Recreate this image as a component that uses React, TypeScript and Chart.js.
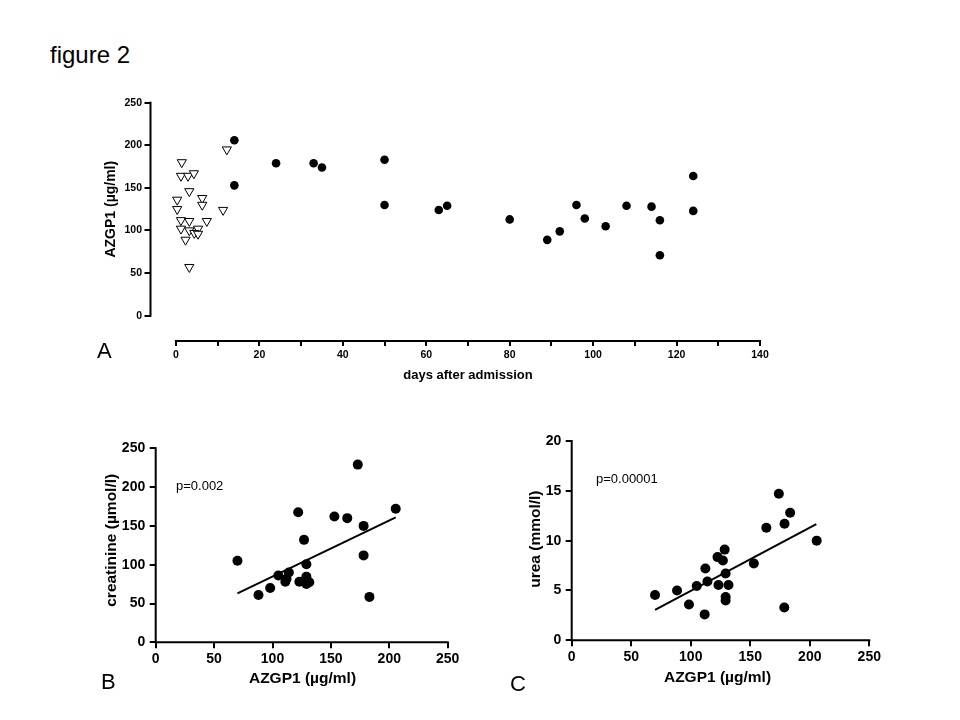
import React, { useEffect, useRef } from "react";
import { Chart, registerables } from "chart.js";

Chart.register(...registerables);

const FONT = "'Liberation Sans', Arial, Helvetica, sans-serif";

// ---------- Panel A: AZGP1 vs days after admission ----------
const admissionDays = [1.4, 1.2, 2.9, 4.3, 3.2, 0.3, 6.3, 0.3, 6.3, 11.3, 1.2, 3.2, 7.4, 1.2, 3.2, 5.3, 4.4, 5.3, 2.3, 3.2, 12.2];
const admissionAZGP1 = [180, 164, 164, 167, 146, 136, 138, 125, 130, 124, 112, 111, 111, 102, 100, 102, 97, 96, 89, 57, 195];
const followDays = [14, 14, 24, 33, 35, 50, 50, 63, 65, 80, 89, 92, 96, 98, 103, 108, 114, 116, 116, 124, 124];
const followAZGP1 = [206, 153, 179, 179, 174, 183, 130, 124, 129, 113, 89, 99, 130, 114, 105, 129, 128, 112, 71, 164, 123];
const dayTicks = [0, 10, 20, 30, 40, 50, 60, 70, 80, 90, 100, 110, 120, 130, 140];
const dayTickLabels = [0, 20, 40, 60, 80, 100, 120, 140];
const azgpTicksA = [0, 50, 100, 150, 200, 250];

// ---------- Panel B: creatinine vs AZGP1 ----------
const creatAZGP1 = [70, 88, 98, 105, 111, 112, 114, 122, 123, 127, 129, 129, 129, 131.5, 153, 164, 173, 178, 178, 183, 205.5];
const creatinine = [105, 61, 70, 86, 78, 82, 90, 167.5, 78, 132, 100.5, 84.6, 75.2, 77.3, 162, 160, 229, 150, 112, 58.5, 172];
const creatFitX = [70, 205.5];
const creatFitY = [63, 161];
const creatTicks = [0, 50, 100, 150, 200, 250];

// ---------- Panel C: urea vs AZGP1 ----------
const ureaAZGP1 = [70, 88.5, 98.5, 105, 111.7, 112.3, 114, 122.5, 123.3, 127, 128.5, 129.3, 129.3, 129.3, 131.7, 153, 163.5, 174, 178.8, 178.6, 183.5, 205.8];
const urea = [4.55, 5.0, 3.6, 5.45, 2.6, 7.2, 5.9, 8.35, 5.55, 8.0, 9.1, 6.7, 4.35, 4.0, 5.55, 7.7, 11.3, 14.7, 11.7, 3.3, 12.8, 10.0];
const ureaFitX = [70, 205.5];
const ureaFitY = [3.05, 11.65];
const ureaTicks = [0, 5, 10, 15, 20];
const azgpTicksBC = [0, 50, 100, 150, 200, 250];

const toXY = (xs: number[], ys: number[]) => xs.map((x, i) => ({ x, y: ys[i] }));

type AxisSpec = {
  min: number;
  max: number;
  from: number;
  to: number;
  ticks: number[];
  labels: number[];
  fontSize: number;
  tickLen: number;
  pad: number;
};

type PanelSpec = {
  width: number;
  height: number;
  area: { left: number; top: number; right: number; bottom: number };
  x: AxisSpec;
  y: AxisSpec;
  joined: boolean;
  lineWidth: number;
  xTitle: { text: string; size: number; dy: number; dx: number };
  yTitle: { text: string; size: number; dx: number; dy: number };
  datasets: any[];
};

function axesPlugin(spec: PanelSpec) {
  return {
    id: "prismAxes",
    beforeDatasetsDraw(chart: any) {
      const { ctx, chartArea } = chart;
      const xs = chart.scales.x;
      const ys = chart.scales.y;
      ctx.save();
      ctx.strokeStyle = "#000";
      ctx.lineWidth = spec.lineWidth;
      ctx.lineCap = "square";
      ctx.lineJoin = "miter";
      const yTop = ys.getPixelForValue(spec.y.to);
      const yBot = ys.getPixelForValue(spec.y.from);
      const xL = xs.getPixelForValue(spec.x.from);
      const xR = xs.getPixelForValue(spec.x.to);
      if (spec.joined) {
        ctx.beginPath();
        ctx.moveTo(chartArea.left, yTop);
        ctx.lineTo(chartArea.left, chartArea.bottom);
        ctx.lineTo(xR, chartArea.bottom);
        ctx.stroke();
      } else {
        ctx.beginPath();
        ctx.moveTo(chartArea.left, yTop);
        ctx.lineTo(chartArea.left, yBot);
        ctx.stroke();
        ctx.beginPath();
        ctx.moveTo(xL, chartArea.bottom);
        ctx.lineTo(xR, chartArea.bottom);
        ctx.stroke();
      }
      // axis titles
      ctx.fillStyle = "#000";
      ctx.textAlign = "center";
      ctx.textBaseline = "middle";
      ctx.font = `bold ${spec.xTitle.size}px ${FONT}`;
      ctx.fillText(spec.xTitle.text, (xL + xR) / 2 + spec.xTitle.dx, chartArea.bottom + spec.xTitle.dy);
      ctx.font = `bold ${spec.yTitle.size}px ${FONT}`;
      ctx.translate(chartArea.left - spec.yTitle.dx, (yTop + yBot) / 2 + spec.yTitle.dy);
      ctx.rotate(-Math.PI / 2);
      ctx.fillText(spec.yTitle.text, 0, 0);
      ctx.restore();
    },
  };
}

function scaleOptions(ax: AxisSpec, isX: boolean, spec: PanelSpec) {
  return {
    type: "linear",
    position: isX ? "bottom" : "left",
    min: ax.min,
    max: ax.max,
    afterBuildTicks: (s: any) => {
      s.ticks = ax.ticks.map((value) => ({ value }));
    },
    afterFit: (s: any) => {
      if (isX) s.height = spec.height - spec.area.bottom;
      else s.width = spec.area.left;
    },
    ticks: {
      autoSkip: false,
      maxRotation: 0,
      minRotation: 0,
      padding: ax.pad,
      color: "#000",
      font: { family: FONT, size: ax.fontSize, weight: "bold" },
      callback: (v: any) => (ax.labels.includes(Number(v)) ? String(v) : ""),
    },
    grid: {
      display: true,
      drawOnChartArea: false,
      drawTicks: true,
      tickLength: ax.tickLen,
      tickWidth: spec.lineWidth,
      tickColor: "#000",
      lineWidth: spec.lineWidth,
      color: "#000",
    },
    border: { display: false },
    title: { display: false },
  };
}

function Panel({ spec, left, top }: { spec: PanelSpec; left: number; top: number }) {
  const ref = useRef<HTMLCanvasElement | null>(null);
  useEffect(() => {
    if (!ref.current) return;
    const chart = new Chart(ref.current, {
      type: "scatter",
      data: { datasets: spec.datasets },
      options: {
        responsive: false,
        maintainAspectRatio: false,
        animation: false,
        devicePixelRatio: 1,
        events: [],
        layout: {
          padding: { left: 0, top: spec.area.top, right: spec.width - spec.area.right, bottom: 0 },
        },
        plugins: {
          legend: { display: false },
          tooltip: { enabled: false },
          title: { display: false },
        },
        scales: {
          x: scaleOptions(spec.x, true, spec),
          y: scaleOptions(spec.y, false, spec),
        },
      } as any,
      plugins: [axesPlugin(spec) as any],
    });
    return () => chart.destroy();
  }, [spec]);
  return (
    <canvas
      ref={ref}
      width={spec.width}
      height={spec.height}
      style={{ position: "absolute", left, top, width: spec.width, height: spec.height, display: "block" }}
    />
  );
}

const specA: PanelSpec = {
  width: 800,
  height: 320,
  area: { left: 150.5, top: 22.7, right: 760, bottom: 261 },
  x: { min: -6.1, max: 140, from: 0, to: 140, ticks: dayTicks, labels: dayTickLabels, fontSize: 10.5, tickLen: 5, pad: 3 },
  y: { min: -29.7, max: 250, from: 0, to: 250, ticks: azgpTicksA, labels: azgpTicksA, fontSize: 10.5, tickLen: 6, pad: 2.5 },
  joined: false,
  lineWidth: 2,
  xTitle: { text: "days after admission", size: 13, dy: 34.5, dx: 0 },
  yTitle: { text: "AZGP1 (µg/ml)", size: 14, dx: 39, dy: 0 },
  datasets: [
    {
      label: "admission",
      data: toXY(admissionDays, admissionAZGP1),
      pointStyle: "triangle",
      rotation: 180,
      pointRadius: 5.3,
      backgroundColor: "#fff",
      borderColor: "#000",
      borderWidth: 1,
      clip: false,
    },
    {
      label: "follow-up",
      data: toXY(followDays, followAZGP1),
      pointStyle: "circle",
      pointRadius: 4.3,
      backgroundColor: "#000",
      borderColor: "#000",
      borderWidth: 0,
      clip: false,
    },
  ],
};

const specB: PanelSpec = {
  width: 480,
  height: 320,
  area: { left: 155.7, top: 48.3, right: 447.7, bottom: 242.3 },
  x: { min: 0, max: 250, from: 0, to: 250, ticks: azgpTicksBC, labels: azgpTicksBC, fontSize: 14, tickLen: 6, pad: 2 },
  y: { min: 0, max: 250, from: 0, to: 250, ticks: creatTicks, labels: creatTicks, fontSize: 14, tickLen: 6, pad: 4.5 },
  joined: true,
  lineWidth: 2,
  xTitle: { text: "AZGP1 (µg/ml)", size: 15.5, dy: 36, dx: 0.8 },
  yTitle: { text: "creatinine (µmol/l)", size: 15.5, dx: 44, dy: -5 },
  datasets: [
    {
      label: "creatinine",
      data: toXY(creatAZGP1, creatinine),
      pointStyle: "circle",
      pointRadius: 5,
      backgroundColor: "#000",
      borderWidth: 0,
      clip: false,
    },
    {
      label: "fit",
      data: toXY(creatFitX, creatFitY),
      showLine: true,
      pointRadius: 0,
      borderColor: "#000",
      borderWidth: 2,
      clip: false,
    },
  ],
};

const specC: PanelSpec = {
  width: 480,
  height: 320,
  area: { left: 91.7, top: 41, right: 389.3, bottom: 240.3 },
  x: { min: 0, max: 250, from: 0, to: 250, ticks: azgpTicksBC, labels: azgpTicksBC, fontSize: 14, tickLen: 6, pad: 2 },
  y: { min: 0, max: 20, from: 0, to: 20, ticks: ureaTicks, labels: ureaTicks, fontSize: 14, tickLen: 6, pad: 4.5 },
  joined: true,
  lineWidth: 2,
  xTitle: { text: "AZGP1 (µg/ml)", size: 15.5, dy: 37.5, dx: -3 },
  yTitle: { text: "urea (mmol/l)", size: 15.5, dx: 36, dy: -1.5 },
  datasets: [
    {
      label: "urea",
      data: toXY(ureaAZGP1, urea),
      pointStyle: "circle",
      pointRadius: 5,
      backgroundColor: "#000",
      borderWidth: 0,
      clip: false,
    },
    {
      label: "fit",
      data: toXY(ureaFitX, ureaFitY),
      showLine: true,
      pointRadius: 0,
      borderColor: "#000",
      borderWidth: 2,
      clip: false,
    },
  ],
};

const textStyle = (left: number, top: number, size: number): React.CSSProperties => ({
  position: "absolute",
  left,
  top,
  fontSize: size,
  lineHeight: 1,
  fontFamily: FONT,
  color: "#000",
  whiteSpace: "nowrap",
});

export default function App() {
  return (
    <div style={{ position: "absolute", left: 0, top: 0, width: 960, height: 720, background: "#fff", overflow: "hidden" }}>
      <div style={textStyle(50, 43, 24)}>figure 2</div>
      <Panel spec={specA} left={0} top={80} />
      <Panel spec={specB} left={0} top={400} />
      <Panel spec={specC} left={480} top={400} />
      <div style={textStyle(97, 340, 22)}>A</div>
      <div style={textStyle(101, 671, 22)}>B</div>
      <div style={textStyle(510, 673, 22)}>C</div>
      <div style={textStyle(176, 479, 13)}>p=0.002</div>
      <div style={textStyle(596, 472, 13)}>p=0.00001</div>
    </div>
  );
}
